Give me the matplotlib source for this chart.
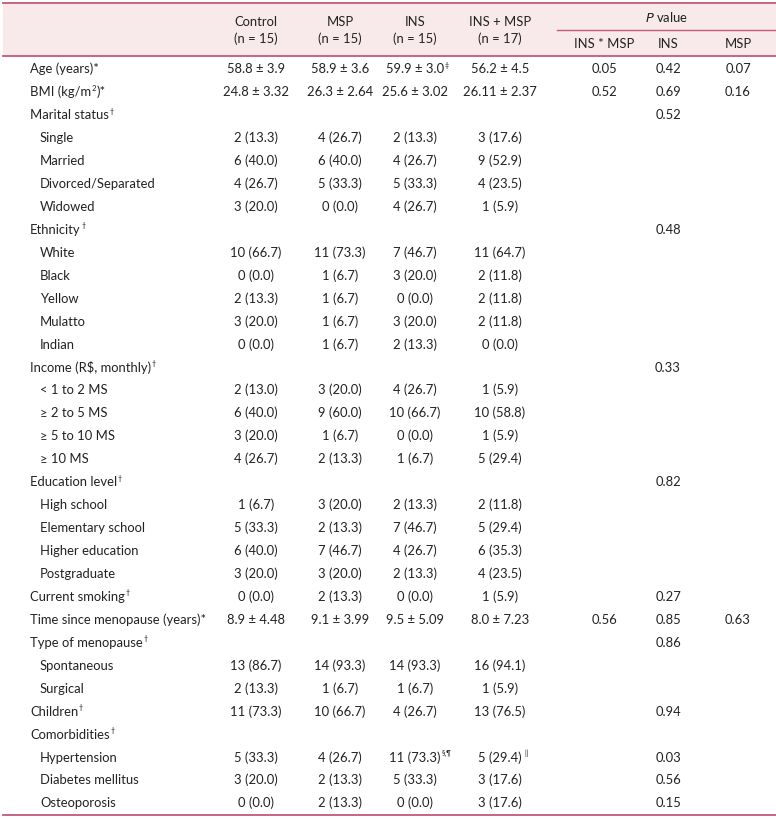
import matplotlib
matplotlib.use("Agg")
import matplotlib.pyplot as plt
from matplotlib.patches import Rectangle

plt.rcParams['font.family'] = ['Lato', 'DejaVu Sans']

labels = ["Age (years)*", "BMI (kg/m2)*", "Marital status", "Single", "Married",
          "Divorced/Separated", "Widowed", "Ethnicity", "White", "Black", "Yellow",
          "Mulatto", "Indian", "Income (R$, monthly)", "< 1 to 2 MS", "≥ 2 to 5 MS",
          "≥ 5 to 10 MS", "≥ 10 MS", "Education level", "High school",
          "Elementary school", "Higher education", "Postgraduate", "Current smoking",
          "Time since menopause (years)*", "Type of menopause", "Spontaneous",
          "Surgical", "Children", "Comorbidities", "Hypertension",
          "Diabetes mellitus", "Osteoporosis"]
label_sup = ["", "", "†", "", "", "", "", "†", "", "", "", "", "", "†", "", "", "", "",
             "†", "", "", "", "", "†", "", "†", "", "", "†", "†", "", "", ""]
indent = [0, 0, 0, 1, 1, 1, 1, 0, 1, 1, 1, 1, 1, 0, 1, 1, 1, 1, 0, 1, 1, 1, 1, 0, 0,
          0, 1, 1, 0, 0, 1, 1, 1]

control = ["58.8 ± 3.9", "24.8 ± 3.32", "", "2 (13.3)", "6 (40.0)", "4 (26.7)", "3 (20.0)",
           "", "10 (66.7)", "0 (0.0)", "2 (13.3)", "3 (20.0)", "0 (0.0)", "", "2 (13.0)",
           "6 (40.0)", "3 (20.0)", "4 (26.7)", "", "1 (6.7)", "5 (33.3)", "6 (40.0)",
           "3 (20.0)", "0 (0.0)", "8.9 ± 4.48", "", "13 (86.7)", "2 (13.3)", "11 (73.3)",
           "", "5 (33.3)", "3 (20.0)", "0 (0.0)"]
msp = ["58.9 ± 3.6", "26.3 ± 2.64", "", "4 (26.7)", "6 (40.0)", "5 (33.3)", "0 (0.0)",
       "", "11 (73.3)", "1 (6.7)", "1 (6.7)", "1 (6.7)", "1 (6.7)", "", "3 (20.0)",
       "9 (60.0)", "1 (6.7)", "2 (13.3)", "", "3 (20.0)", "2 (13.3)", "7 (46.7)",
       "3 (20.0)", "2 (13.3)", "9.1 ± 3.99", "", "14 (93.3)", "1 (6.7)", "10 (66.7)",
       "", "4 (26.7)", "2 (13.3)", "2 (13.3)"]
ins = ["59.9 ± 3.0", "25.6 ± 3.02", "", "2 (13.3)", "4 (26.7)", "5 (33.3)", "4 (26.7)",
       "", "7 (46.7)", "3 (20.0)", "0 (0.0)", "3 (20.0)", "2 (13.3)", "", "4 (26.7)",
       "10 (66.7)", "0 (0.0)", "1 (6.7)", "", "2 (13.3)", "7 (46.7)", "4 (26.7)",
       "2 (13.3)", "0 (0.0)", "9.5 ± 5.09", "", "14 (93.3)", "1 (6.7)", "4 (26.7)",
       "", "11 (73.3)", "5 (33.3)", "0 (0.0)"]
ins_msp = ["56.2 ± 4.5", "26.11 ± 2.37", "", "3 (17.6)", "9 (52.9)", "4 (23.5)", "1 (5.9)",
           "", "11 (64.7)", "2 (11.8)", "2 (11.8)", "2 (11.8)", "0 (0.0)", "", "1 (5.9)",
           "10 (58.8)", "1 (5.9)", "5 (29.4)", "", "2 (11.8)", "5 (29.4)", "6 (35.3)",
           "4 (23.5)", "1 (5.9)", "8.0 ± 7.23", "", "16 (94.1)", "1 (5.9)", "13 (76.5)",
           "", "5 (29.4)", "3 (17.6)", "3 (17.6)"]
ins_sup = {0: "‡", 30: "§,¶"}
ins_msp_sup = {30: "‖"}
p_interaction = ["0.05", "0.52"] + [""] * 22 + ["0.56"] + [""] * 8
p_ins = ["0.42", "0.69", "0.52", "", "", "", "", "0.48", "", "", "", "", "", "0.33", "",
         "", "", "", "0.82", "", "", "", "", "0.27", "0.85", "0.86", "", "", "0.94", "",
         "0.03", "0.56", "0.15"]
p_msp = ["0.07", "0.16"] + [""] * 22 + ["0.63"] + [""] * 8

group_names = ["Control", "MSP", "INS", "INS + MSP"]
group_n = ["(n = 15)", "(n = 15)", "(n = 15)", "(n = 17)"]
p_names = ["INS * MSP", "INS", "MSP"]

W, H = 776, 819
fig = plt.figure(figsize=(W / 100, H / 100), dpi=100)
ax = fig.add_axes([0, 0, 1, 1])
ax.set_xlim(0, W)
ax.set_ylim(H, 0)
ax.axis('off')

line_c = '#C4587A'
fill_c = '#F8E9EA'
txt_c = '#222222'
fs = 9.4
sfs = 5.0

ax.add_patch(Rectangle((3, 3), W - 3, 53, facecolor=fill_c, edgecolor='none'))
ax.plot([3, W], [3, 3], color=line_c, lw=1.3)
ax.plot([3, W], [56, 56], color=line_c, lw=1.3)
ax.plot([557, W], [30, 30], color=line_c, lw=1.0)
ax.plot([3, W], [815, 815], color=line_c, lw=1.3)

gx = [256, 340, 415, 500]
px = [604, 668, 738]
for x, nm, n in zip(gx, group_names, group_n):
    ax.text(x, 22, nm, ha='center', va='center', fontsize=fs, color=txt_c)
    ax.text(x, 39, n, ha='center', va='center', fontsize=fs, color=txt_c)
ax.text(666, 17, "$\\it{P}$ value", ha='center', va='center', fontsize=fs, color=txt_c)
for x, nm in zip(px, p_names):
    ax.text(x, 44, nm, ha='center', va='center', fontsize=fs, color=txt_c)

BASE_OFF = 4.3   # baseline offset below row centre (px)
SUP_RISE = 5.5   # superscript baseline rise above main baseline (px)

fig.canvas.draw()
renderer = fig.canvas.get_renderer()
inv = ax.transData.inverted()


def right_x(t):
    bb = t.get_window_extent(renderer=renderer)
    return inv.transform((bb.x1, bb.y1))[0]


def sup(t, s, y, dx=0.6):
    x = right_x(t)
    return ax.text(x + dx, y + BASE_OFF - SUP_RISE, s, ha='left', va='baseline',
                   fontsize=sfs, color=txt_c)


y0, dy = 69, 22.94
for i, lab in enumerate(labels):
    y = y0 + i * dy
    lx = 40 if indent[i] else 30
    if lab == "BMI (kg/m2)*":
        t1 = ax.text(lx, y + BASE_OFF, "BMI (kg/m", ha='left', va='baseline', fontsize=fs, color=txt_c)
        t2 = ax.text(right_x(t1) + 0.3, y + BASE_OFF - SUP_RISE, "2", ha='left', va='baseline',
                     fontsize=sfs + 0.6, color=txt_c)
        ax.text(right_x(t2) + 0.3, y + BASE_OFF, ")*", ha='left', va='baseline', fontsize=fs, color=txt_c)
    else:
        t = ax.text(lx, y + BASE_OFF, lab, ha='left', va='baseline', fontsize=fs, color=txt_c)
        if label_sup[i]:
            sup(t, label_sup[i], y)
    for col, x, sups in zip([control, msp, ins, ins_msp], gx, [{}, {}, ins_sup, ins_msp_sup]):
        if col[i]:
            t = ax.text(x, y + BASE_OFF, col[i], ha='center', va='baseline', fontsize=fs, color=txt_c)
            if i in sups:
                sup(t, sups[i], y, dx=2.5 if sups[i] == "‖" else 0.6)
    for col, x in zip([p_interaction, p_ins, p_msp], px):
        if col[i]:
            ax.text(x, y + BASE_OFF, col[i], ha='center', va='baseline', fontsize=fs, color=txt_c)

fig.savefig("out.png", dpi=100)
